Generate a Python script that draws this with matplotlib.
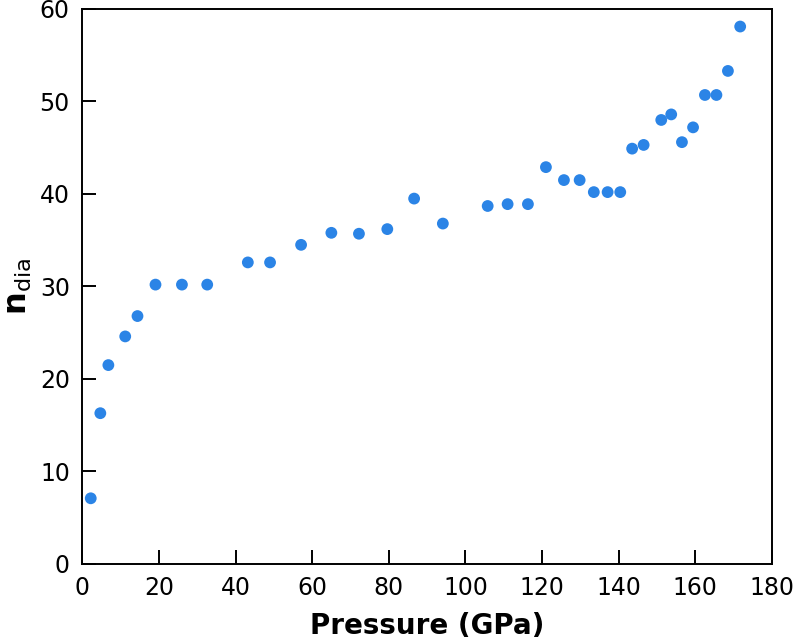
import matplotlib
matplotlib.use("Agg")
from matplotlib import pyplot as plt

# pressure (GPa) and n_dia
pressure = [2.2, 4.7, 6.8, 11.2, 14.4, 19.1, 26.0, 32.6, 43.2, 49.0,
            57.1, 65.0, 72.2, 79.6, 86.6, 94.1, 105.8, 111.0, 116.3, 121.0,
            125.7, 129.8, 133.5, 137.1, 140.4, 143.5, 146.5, 151.1, 153.7, 156.5,
            159.4, 162.5, 165.5, 168.5, 171.7]
n_dia = [7.1, 16.3, 21.5, 24.6, 26.8, 30.2, 30.2, 30.2, 32.6, 32.6,
         34.5, 35.8, 35.7, 36.2, 39.5, 36.8, 38.7, 38.9, 38.9, 42.9,
         41.5, 41.5, 40.2, 40.2, 40.2, 44.9, 45.3, 48.0, 48.6, 45.6,
         47.2, 50.7, 50.7, 53.3, 58.1]

plt.rcParams['mathtext.fontset'] = 'dejavusans'

fig = plt.figure(figsize=(7.93, 6.40), dpi=100)
ax = fig.add_axes([0.1038, 0.1188, 0.8697, 0.8672])

ax.scatter(pressure, n_dia, s=72, color="#2b84e6", edgecolors="none", zorder=3)

ax.set_xlim(0, 180)
ax.set_ylim(0, 60)
ax.set_xticks(range(0, 181, 20))
ax.set_yticks(range(0, 61, 10))
ax.tick_params(direction="in", length=10, width=1.4, labelsize=17, pad=9)
for s in ax.spines.values():
    s.set_linewidth(1.4)

ax.set_xlabel("Pressure (GPa)", fontsize=20, fontweight="bold", labelpad=8)
ax.set_ylabel(r"$\mathbf{n}_{\mathrm{dia}}$", fontsize=23, labelpad=4)

plt.savefig("out.png", dpi=100)
